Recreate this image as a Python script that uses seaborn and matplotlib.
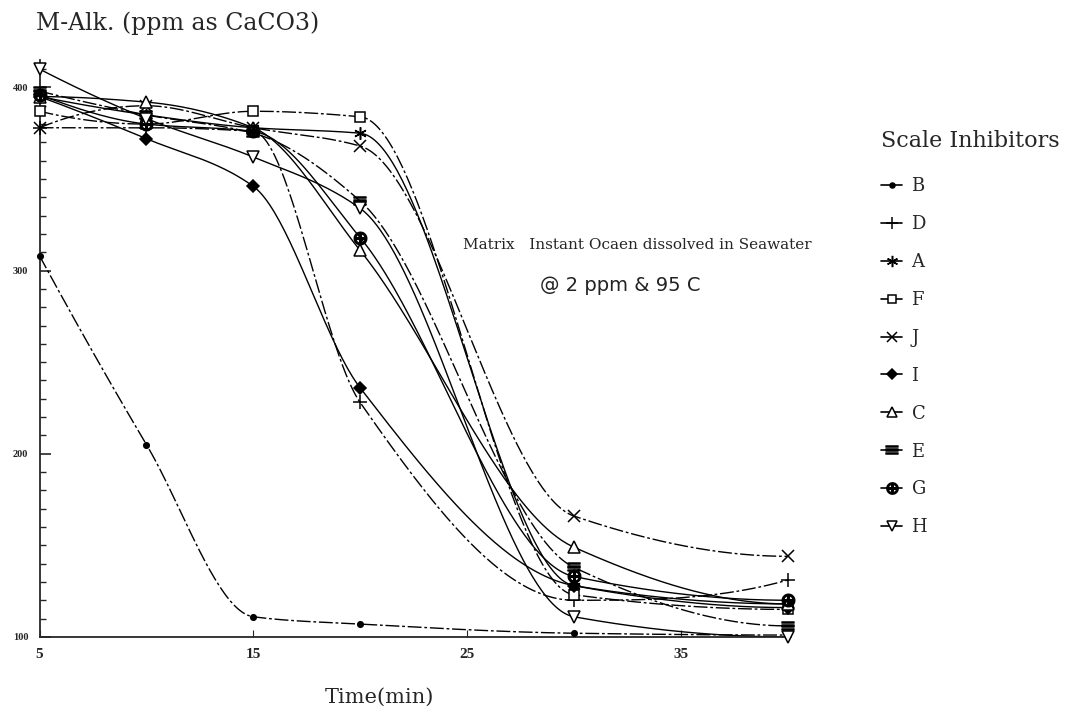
import numpy as np
import pandas as pd
import matplotlib
matplotlib.use("Agg")
import matplotlib.pyplot as plt
import seaborn as sns
from matplotlib.lines import Line2D

# ---- data ----
time_min = [5, 10, 15, 20, 30, 40]
series_names = ["B", "D", "A", "F", "J", "I", "C", "E", "G", "H"]
B = [308, 205, 111, 107, 102, 101]
D = [378, 378, 376, 228, 120, 131]
A = [395, 385, 378, 375, 128, 118]
F = [387, 380, 387, 384, 123, 115]
J = [378, 390, 378, 368, 166, 144]
I = [395, 372, 346, 236, 128, 116]
C = [395, 392, 378, 311, 149, 118]
E = [398, 385, 375, 338, 138, 106]
G = [396, 380, 376, 318, 133, 120]
H = [410, 383, 362, 334, 111, 100]
values = dict(B=B, D=D, A=A, F=F, J=J, I=I, C=C, E=E, G=G, H=H)
x_ticks = [5, 15, 25, 35]
y_ticks = [100, 200, 300, 400]

# ---- styles ----
markers = {"B": "o", "D": "+", "A": (6, 2, 0), "F": "s", "J": "x", "I": "D",
           "C": "^", "E": "$\\equiv$", "G": "$\\oplus$", "H": "v"}
msize = {"B": 4, "D": 10, "A": 9, "F": 7, "J": 8, "I": 6, "C": 8, "E": 9, "G": 9, "H": 8}
mfill = {"B": "black", "D": "black", "A": "black", "F": "white", "J": "black", "I": "black",
         "C": "white", "E": "black", "G": "black", "H": "white"}
dd = (0, (10, 2, 2, 2))
lstyle = {"B": dd, "D": dd, "A": "-", "F": dd, "J": dd, "I": "-", "C": "-", "E": dd, "G": "-", "H": "-"}


def pchip(x, y, xs):
    x = np.asarray(x, float); y = np.asarray(y, float)
    h = np.diff(x); delta = np.diff(y) / h
    n = len(x); d = np.zeros(n)
    for k in range(1, n - 1):
        if delta[k - 1] * delta[k] > 0:
            w1 = 2 * h[k] + h[k - 1]; w2 = h[k] + 2 * h[k - 1]
            d[k] = (w1 + w2) / (w1 / delta[k - 1] + w2 / delta[k])
    def end(h0, h1, d0, d1):
        v = ((2 * h0 + h1) * d0 - h0 * d1) / (h0 + h1)
        if np.sign(v) != np.sign(d0):
            v = 0
        elif np.sign(d0) != np.sign(d1) and abs(v) > abs(3 * d0):
            v = 3 * d0
        return v
    d[0] = end(h[0], h[1], delta[0], delta[1])
    d[-1] = end(h[-1], h[-2], delta[-1], delta[-2])
    out = np.empty_like(xs)
    idx = np.clip(np.searchsorted(x, xs) - 1, 0, n - 2)
    for j, xv in enumerate(xs):
        k = idx[j]; t = (xv - x[k]) / h[k]
        h00 = 2 * t**3 - 3 * t**2 + 1; h10 = t**3 - 2 * t**2 + t
        h01 = -2 * t**3 + 3 * t**2; h11 = t**3 - t**2
        out[j] = h00 * y[k] + h10 * h[k] * d[k] + h01 * y[k + 1] + h11 * h[k] * d[k + 1]
    return out


sns.set_style("ticks")
plt.rcParams["font.family"] = ["DejaVu Sans"]

fig = plt.figure(figsize=(10.7, 7.14), dpi=100)
ax = fig.add_axes([0.037, 0.108, 0.699, 0.808])

rows = []
for name in series_names:
    for t, v in zip(time_min, values[name]):
        rows.append(dict(series=name, time=t, alk=v))
df = pd.DataFrame(rows)

xs = np.linspace(5, 40, 300)
handles = []
for name in series_names:
    sub = df[df.series == name]
    curve = pd.DataFrame({"time": xs, "alk": pchip(sub.time.values, sub.alk.values, xs)})
    sns.lineplot(data=curve, x="time", y="alk", ax=ax, color="black", lw=1.0,
                 linestyle=lstyle[name], legend=False)
    ax.plot(sub.time, sub.alk, linestyle="none", marker=markers[name], ms=msize[name],
            mfc=mfill[name], mec="black", mew=1.1, clip_on=False, zorder=5)
    handles.append(Line2D([0], [0], color="black", lw=1.2, marker=markers[name],
                          ms=msize[name] * 0.9, mfc=mfill[name], mec="black", mew=1.1))

ax.set_xlim(5, 40)
ax.set_ylim(100, 415)
ax.set_xticks(x_ticks)
ax.set_xticks([40], minor=True)
ax.set_yticks(y_ticks)
ax.set_yticks(np.arange(100, 415, 10), minor=True)
ax.tick_params(axis="y", which="major", direction="in", length=8, width=1.2, labelsize=7.5, pad=8)
ax.tick_params(axis="y", which="minor", direction="in", length=4, width=1.0)
ax.tick_params(axis="x", which="both", direction="in", length=5, labelsize=11, pad=8)
for lab in ax.get_xticklabels():
    lab.set_fontfamily("Liberation Serif"); lab.set_fontweight("bold")
for lab in ax.get_yticklabels():
    lab.set_fontfamily("Liberation Serif"); lab.set_fontweight("bold")
sns.despine(ax=ax, top=True, right=True)
for sp in ("left", "bottom"):
    ax.spines[sp].set_linewidth(1.3)
ax.set_xlabel("")
ax.set_ylabel("")

fig.text(0.034, 0.968, "M-Alk. (ppm as CaCO3)", fontsize=17, family="DejaVu Serif",
         ha="left", va="center")
fig.text(0.355, 0.024, "Time(min)", fontsize=15, family="DejaVu Serif",
         ha="center", va="center")
fig.text(0.596, 0.657, "Matrix   Instant Ocaen dissolved in Seawater", fontsize=11,
         family="DejaVu Serif", ha="center", va="center")
fig.text(0.580, 0.600, "@ 2 ppm & 95 C", fontsize=14, family="DejaVu Sans",
         ha="center", va="center", color="#222222")

leg = fig.legend(handles, series_names, loc="upper left", bbox_to_anchor=(0.808, 0.84),
                 frameon=False, handlelength=1.2, handletextpad=0.5, labelspacing=1.1,
                 prop={"family": "DejaVu Serif", "size": 13},
                 title="Scale Inhibitors", title_fontproperties={"family": "DejaVu Serif", "size": 16})
leg._legend_box.align = "left"
leg._legend_box.sep = 18

fig.savefig("out.png", dpi=100, facecolor="white")
